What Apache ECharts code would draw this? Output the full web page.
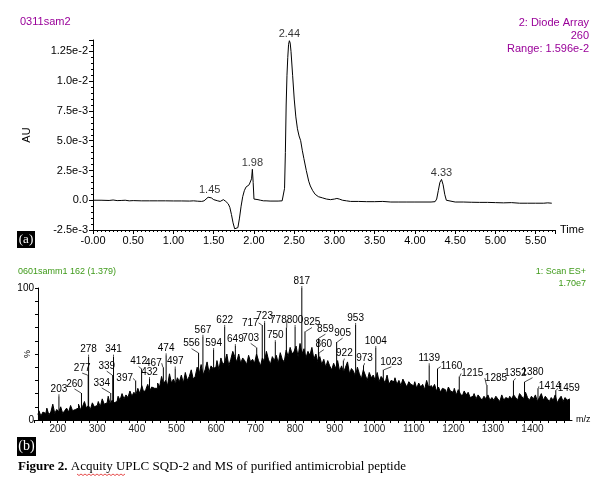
<!DOCTYPE html>
<html>
<head>
<meta charset="utf-8">
<title>UPLC SQD-2 / MS</title>
<script src="https://cdn.jsdelivr.net/npm/echarts@6/dist/echarts.min.js"></script>
<style>
html, body { margin: 0; padding: 0; background: #fff; }
#main { width: 603px; height: 483px; }
</style>
</head>
<body>
<div id="main"></div>
<script>
// (a) chromatogram: time in min, absorbance in 1e-3 AU
var chromTime = [0.00, 0.10, 0.20, 0.25, 0.30, 0.35, 0.40, 0.45, 0.50, 0.60, 0.70, 0.80, 0.90, 1.00, 1.10, 1.20, 1.25, 1.30, 1.35, 1.38,
  1.40, 1.43, 1.45, 1.47, 1.50, 1.55, 1.58, 1.60, 1.62, 1.65, 1.68, 1.70, 1.72, 1.74, 1.76, 1.78, 1.80, 1.82, 1.84, 1.86,
  1.88, 1.90, 1.92, 1.94, 1.96, 1.97, 1.98, 1.99, 2.00, 2.02, 2.05, 2.08, 2.10, 2.12, 2.15, 2.20, 2.30, 2.35, 2.37, 2.38,
  2.39, 2.40, 2.41, 2.42, 2.43, 2.44, 2.45, 2.46, 2.48, 2.50, 2.52, 2.54, 2.56, 2.58, 2.60, 2.62, 2.65, 2.68, 2.70, 2.73,
  2.76, 2.80, 2.85, 2.90, 2.95, 3.00, 3.03, 3.06, 3.10, 3.15, 3.20, 3.30, 3.40, 3.50, 3.60, 3.70, 3.80, 3.90, 4.00, 4.10,
  4.20, 4.25, 4.27, 4.29, 4.31, 4.33, 4.35, 4.37, 4.39, 4.41, 4.50, 4.60, 4.70, 4.80, 4.90, 5.00, 5.10, 5.20, 5.30, 5.40,
  5.50, 5.60, 5.65, 5.70];
var chromAU = [0.00, 0.00, -0.02, 0.02, -0.03, -0.02, 0.00, -0.05, -0.03, -0.05, -0.05, -0.05, -0.05, -0.06, -0.06, -0.07, -0.05, -0.08, -0.10, -0.05,
  0.00, 0.25, 0.30, 0.20, 0.05, -0.05, -0.10, 0.00, 0.05, -0.10, -0.30, -0.60, -1.20, -1.90, -2.40, -2.55, -2.30, -1.50, -0.50, 0.30,
  0.80, 1.10, 1.25, 1.30, 1.20, 1.80, 2.60, 1.50, 0.10, 0.05, 0.05, 0.00, 0.05, -0.05, -0.05, -0.07, -0.07, -0.05, 0.00, 1.00,
  4.00, 8.00, 10.50, 12.00, 13.10, 13.40, 13.20, 12.50, 10.50, 8.50, 7.00, 6.00, 5.40, 5.00, 4.20, 3.50, 2.50, 1.60, 1.20, 0.80,
  0.50, 0.30, 0.20, 0.10, 0.05, 0.10, 0.15, 0.10, 0.00, -0.05, -0.10, -0.10, -0.12, -0.12, -0.10, -0.15, -0.15, -0.15, -0.15, -0.15,
  -0.15, -0.12, 0.10, 0.80, 1.50, 1.75, 1.30, 0.50, 0.00, -0.10, -0.15, -0.15, -0.17, -0.18, -0.18, -0.20, -0.22, -0.20, -0.25, -0.25,
  -0.25, -0.25, -0.22, -0.25];
var chromPeakTime = [1.45, 1.98, 2.44, 4.33];
var chromPeakAU = [0.30, 2.60, 13.40, 1.75];
var timeTicks = ['-0.00', '0.50', '1.00', '1.50', '2.00', '2.50', '3.00', '3.50', '4.00', '4.50', '5.00', '5.50'];
var auTicks = ['-2.5e-3', '0.0', '2.5e-3', '5.0e-3', '7.5e-3', '1.0e-2', '1.25e-2'];

// (b) mass spectrum: relative intensity (%), bulk sampled every 5 m/z from 150
var msStartMz = 150;
var msStepMz = 5;
var msBulk = [
  4, 7, 3, 6, 5, 9, 4, 6, 12, 5,
  8, 6, 10, 5, 7, 9, 6, 11, 7, 8,
  9, 12, 8, 10, 14, 9, 11, 8, 13, 10,
  11, 14, 10, 16, 12, 13, 18, 12, 15, 13,
  14, 18, 15, 20, 16, 19, 17, 22, 18, 21,
  19, 24, 20, 26, 21, 23, 27, 22, 25, 24,
  24, 28, 25, 33, 27, 30, 26, 35, 28, 31,
  27, 32, 29, 34, 28, 36, 30, 33, 38, 31,
  33, 40, 35, 42, 34, 38, 44, 36, 41, 39,
  40, 45, 38, 47, 42, 44, 50, 41, 46, 52,
  48, 44, 50, 43, 47, 45, 42, 49, 44, 46,
  43, 50, 45, 41, 47, 44, 52, 46, 42, 48,
  45, 49, 43, 51, 46, 44, 53, 48, 55, 50,
  52, 56, 48, 58, 50, 54, 47, 52, 49, 55,
  46, 50, 44, 48, 42, 46, 40, 45, 41, 38,
  43, 39, 45, 37, 41, 36, 40, 44, 35, 39,
  37, 33, 40, 35, 31, 38, 34, 30, 36, 32,
  34, 30, 36, 29, 33, 31, 28, 34, 27, 30,
  29, 32, 27, 30, 26, 31, 28, 25, 29, 27,
  26, 29, 24, 28, 25, 27, 23, 30, 25, 26,
  24, 27, 22, 25, 21, 24, 23, 20, 25, 22,
  21, 24, 19, 23, 20, 18, 22, 19, 21, 17,
  18, 20, 16, 19, 17, 15, 18, 16, 19, 15,
  17, 15, 18, 16, 14, 19, 15, 17, 16, 18,
  16, 19, 17, 15, 20, 18, 16, 21, 17, 15,
  18, 16, 19, 14, 17, 20, 15, 18, 16, 14,
  17, 15, 19, 13, 16, 18, 14, 17, 15, 16
];
var msPeakMz = [203, 260, 277, 278, 334, 339, 341, 397, 412, 432, 467, 474, 497, 556, 567, 594, 622, 649, 703, 717, 723,
  750, 778, 800, 817, 825, 859, 860, 905, 922, 953, 973, 1004, 1023, 1139, 1160, 1215, 1285, 1352, 1380, 1414, 1459];
var msPeakPct = [18, 20.5, 34, 48, 20.5, 34, 48, 30, 39, 31, 40, 49, 39, 51, 63, 53, 70.5, 56, 55, 72, 73.5,
  59, 70, 70.5, 100, 67, 62, 51, 59, 45, 72, 41.5, 54.5, 38, 41.5, 39, 33, 26.5, 30, 29, 24, 22.5];
// label shifts (px) used to stagger the peak annotations
var msLabelDx = [0, -7, -6, 0, -9, -6, 0, -11, -3, 0, -10, 0, 0, -7, 0, 0, 0, 0, -6, -12, 0,
  0, -8, 0, 0, 7, 7, 5, 6, 1, 0, 1, 0, 8, 0, 14, 13, 9, 2, 8, 12, 13];
var msLabelDy = [0, -2, 0, 0, -3, -2, 0, 5, 0, 0, 3, 0, 0, -2, 0, 0, 0, 0, -2, 5, 0,
  0, 0, 0, 0, -2, -2, -1, -2, 0, 0, 0, 0, -1, 0, 5, 4, 0, 0, -2, 5, 5];
var mzTicks = ['200', '300', '400', '500', '600', '700', '800', '900', '1000', '1100', '1200', '1300', '1400'];

var chromData = chromTime.map(function (t, i) { return [t, chromAU[i]]; });
var chromPeaks = chromPeakTime.map(function (t, i) { return [t, chromPeakAU[i]]; });
var bulkData = msBulk.map(function (v, i) { return [msStartMz + msStepMz * i, v]; });
var peakData = msPeakMz.map(function (m, i) { return [m, msPeakPct[i]]; });

var sans = 'Liberation Sans, Arial, sans-serif';
var purple = '#990099';
var green = '#3f9a1a';

// red spell-check squiggle under "Acquity"
var squiggle = [];
for (var k = 0; k <= 24; k++) squiggle.push([77 + k * 2, 474 + (k % 2 ? 1.5 : 0)]);

var chart = echarts.init(document.getElementById('main'), null, { renderer: 'canvas' });
chart.setOption({
  animation: false,
  backgroundColor: '#fff',
  textStyle: { fontFamily: sans },
  grid: [
    { left: 93, top: 40, width: 462, height: 190 },
    { left: 34, top: 288, width: 538, height: 132 }
  ],
  xAxis: [{
    gridIndex: 0, type: 'value', min: 0, max: 5.74, interval: 0.5,
    name: 'Time', nameLocation: 'end', nameGap: 5,
    nameTextStyle: { color: '#000', fontSize: 11, fontFamily: sans },
    axisLine: { onZero: false, lineStyle: { color: '#000', width: 1 } },
    axisTick: { show: true, length: 4, lineStyle: { color: '#000' } },
    minorTick: { show: true, splitNumber: 10, length: 2, lineStyle: { color: '#000' } },
    splitLine: { show: false },
    axisLabel: {
      color: '#000', fontSize: 11, margin: 5, showMaxLabel: false,
      formatter: function (v) {
        var i = Math.round(v / 0.5);
        return Math.abs(v - i * 0.5) < 1e-6 && timeTicks[i] ? timeTicks[i] : '';
      }
    }
  }, {
    gridIndex: 1, type: 'value', min: 140, max: 1500, interval: 20,
    name: 'm/z', nameLocation: 'end', nameGap: 4,
    nameTextStyle: { color: '#000', fontSize: 9, fontFamily: sans },
    axisLine: { onZero: false, lineStyle: { color: '#000', width: 1 } },
    axisTick: { show: true, length: 3, lineStyle: { color: '#000' } },
    splitLine: { show: false },
    axisLabel: {
      color: '#222', fontSize: 10, margin: 4, showMaxLabel: false,
      formatter: function (v) {
        var s = String(v);
        return mzTicks.indexOf(s) >= 0 ? s : '';
      }
    }
  }],
  yAxis: [{
    gridIndex: 0, type: 'value', min: -2.5, max: 13.46, interval: 2.5,
    name: 'AU', nameLocation: 'middle', nameGap: 61, nameRotate: 90, nameMoveOverlap: false,
    nameTextStyle: { color: '#000', fontSize: 11, fontFamily: sans },
    axisLine: { show: true, lineStyle: { color: '#000', width: 1 } },
    axisTick: { show: true, length: 4, lineStyle: { color: '#000' } },
    minorTick: { show: true, splitNumber: 5, length: 2, lineStyle: { color: '#000' } },
    splitLine: { show: false },
    axisLabel: {
      color: '#000', fontSize: 11, margin: 5, showMaxLabel: false,
      formatter: function (v) {
        var i = Math.round((v + 2.5) / 2.5);
        return Math.abs(v - (i * 2.5 - 2.5)) < 1e-6 && auTicks[i] ? auTicks[i] : '';
      }
    }
  }, {
    gridIndex: 1, type: 'value', min: 0, max: 100, interval: 10, offset: -4,
    name: '%', nameLocation: 'middle', nameGap: 6, nameRotate: 90, nameMoveOverlap: false,
    nameTextStyle: { color: '#000', fontSize: 9, fontFamily: sans },
    axisLine: { show: true, lineStyle: { color: '#000', width: 1 } },
    axisTick: { show: true, length: 3, lineStyle: { color: '#000' } },
    splitLine: { show: false },
    axisLabel: {
      color: '#000', fontSize: 10, margin: 4,
      formatter: function (v) { return v === 0 || v === 100 ? String(v) : ''; }
    }
  }],
  series: [{
    type: 'line', xAxisIndex: 0, yAxisIndex: 0, data: chromData,
    symbol: 'none', lineStyle: { color: '#000', width: 1 }, silent: true
  }, {
    type: 'scatter', xAxisIndex: 0, yAxisIndex: 0, data: chromPeaks,
    symbolSize: 0, silent: true,
    label: {
      show: true, position: 'top', distance: 1, color: '#000', fontSize: 11, fontFamily: sans,
      formatter: function (p) { return p.value[0].toFixed(2); }
    }
  }, {
    type: 'line', xAxisIndex: 1, yAxisIndex: 1, data: bulkData, step: 'middle',
    symbol: 'none', lineStyle: { color: '#000', width: 1 },
    areaStyle: { color: '#000', opacity: 1 }, silent: true
  }, {
    type: 'bar', xAxisIndex: 1, yAxisIndex: 1, data: peakData, barWidth: 1,
    itemStyle: { color: '#000' }, silent: true,
    label: {
      show: true, position: 'top', distance: 2, color: '#000', fontSize: 10, fontFamily: sans,
      formatter: function (p) { return String(p.value[0]); }
    },
    labelLayout: function (p) {
      return { dx: msLabelDx[p.dataIndex], dy: msLabelDy[p.dataIndex] };
    },
    labelLine: { show: true, lineStyle: { color: '#000', width: 0.7 } }
  }],
  graphic: [
    { type: 'text', left: 20, top: 16, style: { text: '0311sam2', fill: purple, font: '11px ' + sans } },
    { type: 'text', right: 14, top: 17, style: { text: '2: Diode Array', fill: purple, font: '11px ' + sans, textAlign: 'right' } },
    { type: 'text', right: 14, top: 30, style: { text: '260', fill: purple, font: '11px ' + sans, textAlign: 'right' } },
    { type: 'text', right: 14, top: 43, style: { text: 'Range: 1.596e-2', fill: purple, font: '11px ' + sans, textAlign: 'right' } },
    { type: 'rect', shape: { x: 17, y: 231, width: 18, height: 17 }, style: { fill: '#000' } },
    { type: 'text', x: 26, y: 240, style: { text: '(a)', fill: '#fff', font: '13px Liberation Serif, serif', textAlign: 'center', textVerticalAlign: 'middle' } },
    { type: 'text', left: 18, top: 267, style: { text: '0601samm1 162 (1.379)', fill: green, font: '9px ' + sans } },
    { type: 'text', right: 17, top: 267, style: { text: '1: Scan ES+', fill: green, font: '9px ' + sans, textAlign: 'right' } },
    { type: 'text', right: 17, top: 279, style: { text: '1.70e7', fill: green, font: '9px ' + sans, textAlign: 'right' } },
    { type: 'rect', shape: { x: 17, y: 437, width: 19, height: 19 }, style: { fill: '#000' } },
    { type: 'text', x: 26.5, y: 446.5, style: { text: '(b)', fill: '#fff', font: '14px Liberation Serif, serif', textAlign: 'center', textVerticalAlign: 'middle' } },
    {
      type: 'text', x: 18, y: 467,
      style: {
        text: '{b|Figure 2.} Acquity UPLC SQD-2 and MS of purified antimicrobial peptide',
        fill: '#000', font: '13px Liberation Serif, serif', textVerticalAlign: 'middle',
        rich: { b: { fontWeight: 'bold', fontSize: 13, fontFamily: 'Liberation Serif, serif' } }
      }
    },
    { type: 'polyline', shape: { points: squiggle }, style: { stroke: '#e02020', lineWidth: 0.8, fill: null } }
  ]
});
</script>
</body>
</html>
